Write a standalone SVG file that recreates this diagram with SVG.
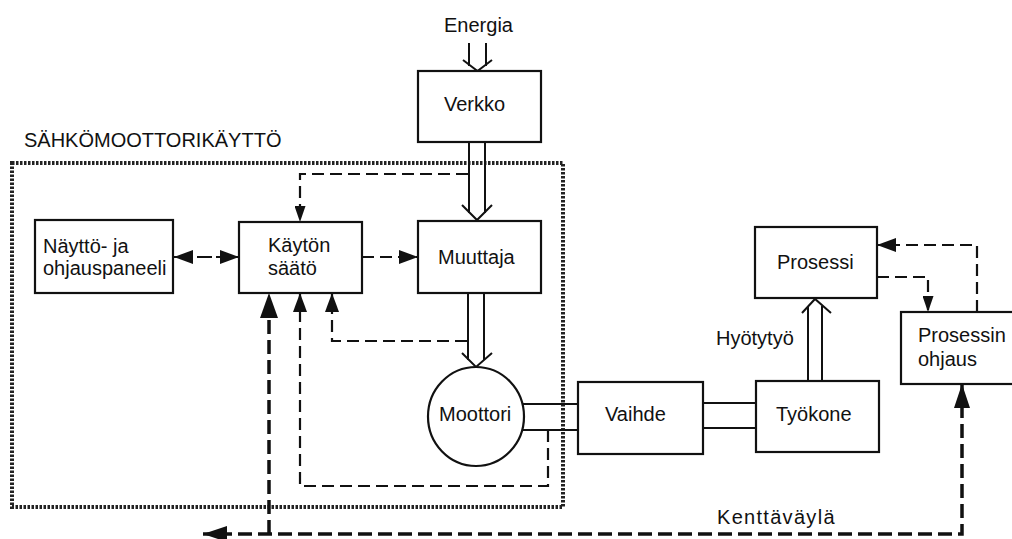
<svg xmlns="http://www.w3.org/2000/svg" width="1012" height="539" viewBox="0 0 1012 539">
<style>
  text { font-family: "Liberation Sans", Arial, sans-serif; font-size: 20px; fill: #111; }
  .box { fill: #fff; stroke: #111; stroke-width: 2.2; }
  .line { fill: none; stroke: #111; stroke-width: 2; }
  .dash { fill: none; stroke: #111; stroke-width: 2.2; stroke-dasharray: 12 6; }
  .dashT { fill: none; stroke: #111; stroke-width: 3.5; stroke-dasharray: 14 6; }
  .dotted { fill: none; stroke: #222; stroke-width: 4; stroke-dasharray: 2.5 1.5; }
</style>
<defs>
  <marker id="ah" markerUnits="userSpaceOnUse" markerWidth="16" markerHeight="11" refX="16" refY="5.5" orient="auto-start-reverse">
    <path d="M0,0 L16,5.5 L0,11 z" fill="#111"/>
  </marker>
  <marker id="ahM" markerUnits="userSpaceOnUse" markerWidth="19" markerHeight="14" refX="19" refY="7" orient="auto-start-reverse">
    <path d="M0,0 L19,7 L0,14 z" fill="#111"/>
  </marker>
  <marker id="ahL" markerUnits="userSpaceOnUse" markerWidth="24" markerHeight="16" refX="24" refY="8" orient="auto-start-reverse">
    <path d="M0,0 L24,8 L0,16 z" fill="#111"/>
  </marker>
  <marker id="ahXL" markerUnits="userSpaceOnUse" markerWidth="25" markerHeight="18" refX="25" refY="9" orient="auto-start-reverse">
    <path d="M0,0 L25,9 L0,18 z" fill="#111"/>
  </marker>
</defs>
<rect width="1012" height="539" fill="#fff"/>

<g id="sahkomoottorikaytto">
  <rect class="dotted" x="12" y="163" width="551" height="344"/>
  <text x="24" y="147">SÄHKÖMOOTTORIKÄYTTÖ</text>
</g>

<g id="connectors">
  <!-- Energia double arrow -->
  <path class="line" d="M469,43 V66 M486,43 V66 M463,60 L477.5,71 L492,60"/>
  <!-- Verkko -> Muuttaja -->
  <path class="line" d="M469,142 V213 M485,142 V213 M462,205 L477,220 L492,205"/>
  <!-- Muuttaja -> Moottori -->
  <path class="line" d="M468,293 V360 M484,293 V360 M462,353 L476,367 L492,353"/>
  <!-- shafts -->
  <path class="line" d="M522,404 H578 M522,430 H578"/>
  <path class="line" d="M703,403 H756 M703,428 H756"/>
  <!-- Tyokone -> Prosessi -->
  <path class="line" d="M808,381 V306 M822,381 V306 M802,313 L815,299 L831,313"/>

  <!-- dashed signals -->
  <path class="dash" d="M468,174 H300 V222" marker-end="url(#ah)"/>
  <path class="dash" d="M362,257 H418" marker-end="url(#ahM)"/>
  <path class="dash" d="M174,257 H239" style="stroke-dasharray: 19 4 15 4 40" marker-start="url(#ahM)" marker-end="url(#ahM)"/>
  <path class="dash" d="M467,341 H332 V293" marker-end="url(#ahM)"/>
  <path class="dash" d="M548,430 V486 H300 V293" marker-end="url(#ahM)"/>
  <path class="dashT" d="M269,534 V293" marker-end="url(#ahXL)"/>
  <path class="dashT" d="M962,384 V534 H203" marker-start="url(#ahL)" marker-end="url(#ahL)"/>
  <path class="dash" d="M877,277 H928 V312" marker-end="url(#ah)"/>
  <path class="dash" d="M977,312 V245 H877" marker-end="url(#ahM)"/>
</g>

<g id="energia"><text x="478.5" y="32" text-anchor="middle">Energia</text></g>
<g id="verkko">
  <rect class="box" x="418" y="71" width="123" height="71"/>
  <text x="444" y="111">Verkko</text>
</g>
<g id="paneeli">
  <rect class="box" x="35" y="220" width="138" height="73"/>
  <text x="43" y="253">Näyttö- ja</text>
  <text x="43" y="275">ohjauspaneeli</text>
</g>
<g id="saato">
  <rect class="box" x="239" y="222" width="123" height="71"/>
  <text x="268" y="252">Käytön</text>
  <text x="268" y="275">säätö</text>
</g>
<g id="muuttaja">
  <rect class="box" x="418" y="221" width="123" height="72"/>
  <text x="438" y="264">Muuttaja</text>
</g>
<g id="moottori">
  <ellipse class="box" cx="476" cy="416.5" rx="48" ry="49.5"/>
  <text x="439" y="421">Moottori</text>
</g>
<g id="vaihde">
  <rect class="box" x="578" y="382" width="125" height="72"/>
  <text x="605" y="421">Vaihde</text>
</g>
<g id="tyokone">
  <rect class="box" x="756" y="381" width="123" height="71"/>
  <text x="776" y="421">Työkone</text>
</g>
<g id="prosessi">
  <rect class="box" x="755" y="227" width="122" height="71"/>
  <text x="777" y="269">Prosessi</text>
</g>
<g id="hyotytyo"><text x="716" y="345">Hyötytyö</text></g>
<g id="prosessin-ohjaus">
  <rect class="box" x="901" y="312" width="125" height="72"/>
  <text x="918" y="342">Prosessin</text>
  <text x="918" y="366">ohjaus</text>
</g>
<g id="kenttavayla"><text x="717" y="524" style="letter-spacing:1.3px">Kenttäväylä</text></g>
</svg>
